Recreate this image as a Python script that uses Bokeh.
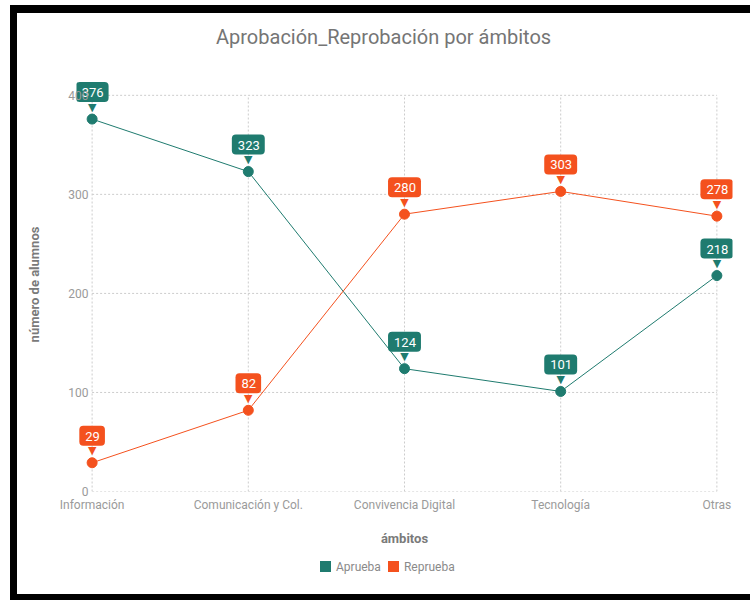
from bokeh.plotting import figure
from bokeh.models import (Range1d, FixedTicker, ColumnDataSource, Div, Spacer)
from bokeh.core.properties import value
from bokeh.layouts import row, column
from bokeh.embed import file_html
from bokeh.resources import INLINE

title_text = "Aprobación_Reprobación por ámbitos"
categories = ["Información", "Comunicación y Col.", "Convivencia Digital", "Tecnología", "Otras"]
aprueba = [376, 323, 124, 101, 218]
reprueba = [29, 82, 280, 303, 278]
y_ticks = [0, 100, 200, 300, 400]
series_names = ["Aprueba", "Reprueba"]

TEAL = "#1f7b6f"
ORANGE = "#f4511e"
FONT = "Roboto"

xs = list(range(len(categories)))
x_pad = 0.1      # room for the value callouts at the edges
y_top = 418      # room for the top callout

p = figure(width=733, height=500, output_backend="svg", toolbar_location=None, title=None,
           x_range=Range1d(-x_pad, xs[-1] + x_pad), y_range=Range1d(0, y_top),
           min_border_left=59, min_border_right=18, min_border_top=24, min_border_bottom=62)
p.outline_line_color = None
p.background_fill_color = "white"
p.border_fill_color = "white"
p.xgrid.visible = False
p.ygrid.visible = False

# axes
p.xaxis.ticker = FixedTicker(ticks=xs)
p.xaxis.major_label_overrides = {i: c for i, c in zip(xs, categories)}
p.yaxis.ticker = FixedTicker(ticks=y_ticks)
for ax in (p.xaxis, p.yaxis):
    ax.axis_line_color = None
    ax.major_tick_line_color = None
    ax.minor_tick_line_color = None
    ax.major_tick_in = 0
    ax.major_tick_out = 0
    ax.major_label_text_font = FONT
    ax.major_label_text_font_size = "12px"
    ax.major_label_text_color = "#9a9a9a"
    ax.axis_label_text_font = FONT
    ax.axis_label_text_font_size = "13px"
    ax.axis_label_text_font_style = "bold"
    ax.axis_label_text_color = "#7a7a7a"
p.xaxis.axis_label = "ámbitos"
p.yaxis.axis_label = "número de alumnos"
p.xaxis.major_label_standoff = 6
p.xaxis.axis_label_standoff = 16
p.yaxis.major_label_standoff = -12
p.yaxis.axis_label_standoff = 23

# dashed grid limited to the category / tick span
p.segment(x0=xs, x1=xs, y0=[y_ticks[0]] * len(xs), y1=[y_ticks[-1]] * len(xs),
          line_color="#cccccc", line_dash="2 2", line_width=1)
p.segment(x0=[xs[0]] * len(y_ticks), x1=[xs[-1]] * len(y_ticks), y0=y_ticks, y1=y_ticks,
          line_color="#cccccc", line_dash="2 2", line_width=1)

# series
for vals, col in ((aprueba, TEAL), (reprueba, ORANGE)):
    src = ColumnDataSource(dict(x=xs, y=vals, lab=[str(v) for v in vals]))
    p.line("x", "y", source=src, line_color=col, line_width=1)
    p.scatter("x", "y", source=src, size=10, fill_color=col, line_color=col)
    p.text("x", "y", text=value("▼"), source=src, y_offset=-12, text_align="center",
           text_baseline="middle", text_color=col, text_font=value("DejaVu Sans"),
           text_font_size="11px")
    p.text("x", "y", text="lab", source=src, y_offset=-27, text_align="center",
           text_baseline="middle", text_color="white", text_font=value(FONT),
           text_font_size="13px", background_fill_color=col, padding=(6, 5, 6, 5),
           border_radius=4)

# title (HTML, above the chart)
title_div = Div(text=(f'<div style="font-family:{FONT};font-size:20px;color:#757575;'
                      f'padding-left:199px;padding-top:12px;'
                      f'line-height:24px;white-space:nowrap">{title_text}</div>'),
                width=733, height=40, margin=0)

# legend (HTML, under the chart)
def swatch(col, name, gap):
    return (f'<span style="display:inline-block;width:11px;height:11px;background:{col};'
            f'vertical-align:-1px;margin-right:5px;margin-left:{gap}px"></span>{name}')

legend_html = (f'<div style="font-family:{FONT};font-size:12px;color:#8a8a8a;'
               f'padding-left:303px;padding-top:7px;white-space:nowrap;line-height:14px">'
               + swatch(TEAL, series_names[0], 0) + swatch(ORANGE, series_names[1], 7)
               + '</div>')
legend_div = Div(text=legend_html, width=733, height=41, margin=0)

# black frame of the screenshot around the chart
def band(w, h):
    return Div(text="", width=w, height=h, margin=0,
               styles={"background-color": "black"})

page = row(
    Spacer(width=10, height=600, margin=0),
    column(Spacer(width=7, height=5, margin=0), band(7, 595), spacing=0),
    column(Spacer(width=733, height=5, margin=0), band(733, 8), title_div, p, legend_div,
           band(733, 6), spacing=0),
    spacing=0,
)

open("out.html", "w").write(file_html(page, INLINE))
